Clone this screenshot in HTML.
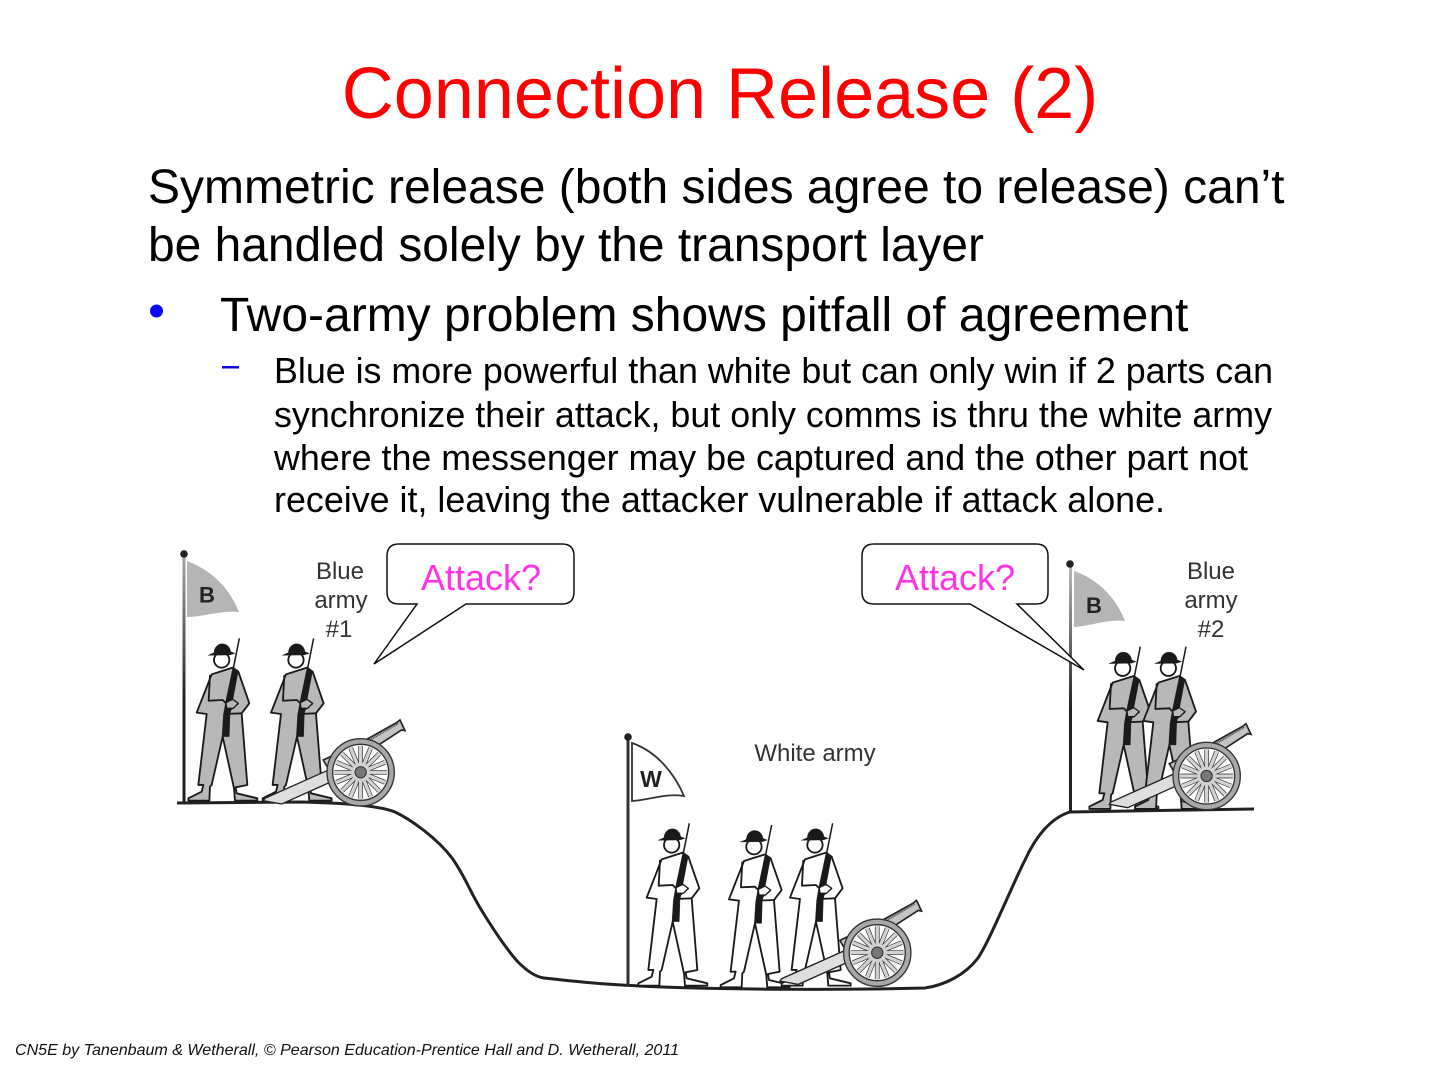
<!DOCTYPE html>
<html><head><meta charset="utf-8"><style>
html,body{margin:0;padding:0;background:#fff}
svg{display:block}
text{font-family:"Liberation Sans",sans-serif}
</style></head><body>
<svg width="1440" height="1080" viewBox="0 0 1440 1080" xmlns="http://www.w3.org/2000/svg">
<defs>
<linearGradient id="p1" gradientUnits="userSpaceOnUse" x1="0" y1="554" x2="0" y2="700"><stop offset="0" stop-color="#aaa"/><stop offset="1" stop-color="#222"/></linearGradient>
<linearGradient id="p2" gradientUnits="userSpaceOnUse" x1="0" y1="564" x2="0" y2="710"><stop offset="0" stop-color="#bbb"/><stop offset="1" stop-color="#222"/></linearGradient>
<g id="s" stroke="#1a1a1a" stroke-width="5.500" stroke-linejoin="round">
  <path d="M125 403L188 383L205 395L238 490L215 520L232 735L197 742L200 760L262 775L262 782L195 782L192 745L158 590L125 735L120 740L118 782L55 782L55 775L95 755L100 735L85 735L110 522L80 518Z"/>
  <path d="M120 405L116 482L158 480L168 490M205 490L165 522L215 520" fill="none"/>
  <path d="M208 295L190 385" fill="none" stroke-width="4.500"/>
  <path d="M188 385L204 398L188 482L180 525L178 590L156 590L160 525L168 480Z" fill="#1a1a1a" stroke-width="1"/>
  <path d="M168 488L188 478L205 490L190 505L170 505Z" stroke-width="4"/>
  <circle cx="155" cy="360" r="23" fill="#fff"/>
  <path d="M114 346L132 338C134 303 178 303 182 335L195 340L180 345Z" fill="#1a1a1a" stroke-width="1"/>
</g>
<g id="c">
  <path d="M460 660L590 598L680 548L690 540L705 572L695 570L610 625L480 695Z" fill="#c4c4c4" stroke="#222" stroke-width="5"/>
  <path d="M600 600L685 550" stroke="#555" stroke-width="6" stroke-dasharray="3 2" fill="none"/>
  <path d="M480 688L285 775L280 782L335 792L478 728Z" fill="#dedede" stroke="#222" stroke-width="4"/>
  <circle cx="572" cy="697" r="101" fill="#a8a8a8" stroke="#333" stroke-width="4"/>
  <circle cx="572" cy="697" r="84" fill="#fff" stroke="#333" stroke-width="4"/>
  <g stroke="#333" stroke-width="14" fill="none">
    <path d="M572 618V776M493 697H651M516 641L628 753M628 641L516 753M542 624L602 770M602 624L542 770M499 667L645 727M645 667L499 727"/>
  </g>
  <g stroke="#d2d2d2" stroke-width="10" fill="none">
    <path d="M572 616V778M491 697H653M515 640L629 754M629 640L515 754M541 622L603 772M603 622L541 772M497 666L647 728M647 666L497 728"/>
  </g>
  <circle cx="572" cy="697" r="17" fill="#777" stroke="#333" stroke-width="3"/>
</g>
</defs>
<text x="720" y="118" font-size="72" fill="#ff0000" text-anchor="middle">Connection Release (2)</text>
<text x="148" y="203" font-size="48" fill="#000">Symmetric release (both sides agree to release) can’t</text>
<text x="148" y="261" font-size="48" fill="#000" textLength="836" lengthAdjust="spacingAndGlyphs">be handled solely by the transport layer</text>
<circle cx="156.500" cy="311" r="6.500" fill="#0a0aee"/>
<text x="220" y="331" font-size="48" fill="#000">Two-army problem shows pitfall of agreement</text>
<rect x="222" y="366" width="17" height="2.500" fill="#0a0ad0"/>
<text x="274" y="383" font-size="36" fill="#000" textLength="999" lengthAdjust="spacingAndGlyphs">Blue is more powerful than white but can only win if 2 parts can</text>
<text x="274" y="427" font-size="36" fill="#000" textLength="998" lengthAdjust="spacingAndGlyphs">synchronize their attack, but only comms is thru the white army</text>
<text x="274" y="470" font-size="36" fill="#000" textLength="974" lengthAdjust="spacingAndGlyphs">where the messenger may be captured and the other part not</text>
<text x="274" y="512" font-size="36" fill="#000" textLength="891" lengthAdjust="spacingAndGlyphs">receive it, leaving the attacker vulnerable if attack alone.</text>

<path d="M177 803L300 802C350 803 380 806 395 812C410 819 437 838 452 858C465 876 470 892 482 911C495 932 507 950 518 962C528 972 536 977 544 978C580 982 600 984 640 986C720 990 850 990 925 988C945 985 965 975 978 958C990 940 1010 890 1025 860C1035 838 1050 818 1070 812L1254 809" fill="none" stroke="#222" stroke-width="3"/>

<!-- Blue 1 -->
<rect x="182.500" y="554" width="3" height="250" fill="url(#p1)"/>
<circle cx="184" cy="554" r="3.800" fill="#222"/>
<path d="M187 561C215 572 230 590 239 612C220 610 205 617 187 617Z" fill="#b5b5b5"/>
<text x="207" y="602.500" font-size="22" font-weight="bold" fill="#222" text-anchor="middle">B</text>
<g fill="#333" font-size="24" text-anchor="middle">
<text x="340" y="579">Blue</text><text x="341" y="608">army</text><text x="339" y="637">#1</text>
</g>
<use href="#s" transform="translate(170 540) scale(.3333)" fill="#b8b8b8"/>
<use href="#s" transform="translate(244.300 540) scale(.3333)" fill="#b8b8b8"/>
<use href="#c" transform="translate(170 540) scale(.3333)"/>

<!-- White -->
<line x1="628" y1="737" x2="628" y2="985" stroke="#333" stroke-width="3"/>
<circle cx="628" cy="737" r="3.800" fill="#222"/>
<path d="M632 743C658 752 675 775 684 796C665 793 650 800 632 801Z" fill="#fff" stroke="#333" stroke-width="1.800"/>
<text x="651" y="787" font-size="23" font-weight="bold" fill="#222" text-anchor="middle">W</text>
<text x="815" y="761" font-size="24" fill="#333" text-anchor="middle">White army</text>
<use href="#s" transform="translate(620 725) scale(.3333)" fill="#fff"/>
<use href="#s" transform="translate(702.300 726.700) scale(.3333)" fill="#fff"/>
<use href="#s" transform="translate(763.300 725) scale(.3333)" fill="#fff"/>
<use href="#c" transform="translate(686.600 720.400) scale(.3333)"/>

<!-- Blue 2 -->
<rect x="1069" y="564" width="3" height="248" fill="url(#p2)"/>
<circle cx="1070" cy="564" r="3.800" fill="#222"/>
<path d="M1074 571C1100 580 1117 600 1125 621C1106 619 1092 626 1074 627Z" fill="#b5b5b5"/>
<text x="1094" y="613" font-size="22" font-weight="bold" fill="#222" text-anchor="middle">B</text>
<g fill="#333" font-size="24" text-anchor="middle">
<text x="1211" y="579">Blue</text><text x="1211" y="608">army</text><text x="1211" y="637">#2</text>
</g>
<use href="#s" transform="translate(1071 548.300) scale(.3333)" fill="#b8b8b8"/>
<use href="#s" transform="translate(1116.700 548.300) scale(.3333)" fill="#b8b8b8"/>
<use href="#c" transform="translate(1016 543.700) scale(.3333)"/>

<!-- Callouts -->
<path d="M399 544H562Q574 544 574 556V592Q574 604 562 604H466L374 664L417 604H399Q387 604 387 592V556Q387 544 399 544Z" fill="#fff" stroke="#111" stroke-width="1.500"/>
<text x="481" y="590" font-size="36" fill="#ff33e6" text-anchor="middle">Attack?</text>
<path d="M874 544H1036Q1048 544 1048 556V592Q1048 604 1036 604H1017L1084 670L970 604H874Q862 604 862 592V556Q862 544 874 544Z" fill="#fff" stroke="#111" stroke-width="1.500"/>
<text x="955" y="590" font-size="36" fill="#ff33e6" text-anchor="middle">Attack?</text>

<text x="15" y="1055" font-size="16" font-style="italic" fill="#111" textLength="664" lengthAdjust="spacingAndGlyphs">CN5E by Tanenbaum &amp; Wetherall, © Pearson Education-Prentice Hall and D. Wetherall, 2011</text>
</svg>
</body></html>
